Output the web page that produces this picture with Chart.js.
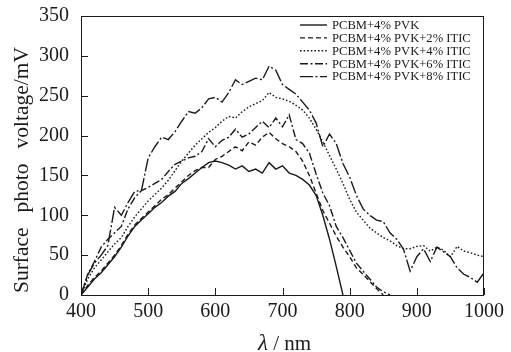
<!DOCTYPE html>
<html>
<head>
<meta charset="utf-8">
<script src="https://cdn.jsdelivr.net/npm/chart.js@4.4.1/dist/chart.umd.min.js"></script>
<style>
  html, body { margin: 0; padding: 0; background: #fff; }
  #wrap { width: 511px; height: 352px; }
</style>
</head>
<body>
<div id="wrap"><canvas id="spv"></canvas></div>
<script>
"use strict"

// wavelength (nm)
const wavelengths = [
    400, 410, 420, 430, 440, 450, 460, 470, 480, 490,
    500, 510, 520, 530, 540, 550, 560, 570, 580, 590,
    600, 610, 620, 630, 640, 650, 660, 670, 680, 690,
    700, 710, 720, 730, 740, 750, 760, 770, 780, 790,
    800, 810, 820, 830, 840, 850, 860, 870, 880, 890,
    900, 910, 920, 930, 940, 950, 960, 970, 980, 990, 1000
];

// surface photo voltage (mV)
const pvk = [
    0, 10, 20, 28, 38, 48, 60, 74, 86, 94,
    102, 110, 116, 124, 130, 140, 146, 153, 160, 166,
    168, 166, 163, 158, 162, 155, 158, 153, 166, 158,
    162, 153, 150, 145, 138, 125, 100, 70, 36, 0,
    null, null, null, null, null, null, null, null, null, null,
    null, null, null, null, null, null, null, null, null, null, null
];
const itic2 = [
    0, 12, 22, 30, 40, 50, 62, 76, 88, 96,
    104, 112, 120, 126, 134, 142, 150, 156, 160, 160,
    170, 174, 180, 186, 181, 192, 188, 198, 204, 196,
    190, 186, 180, 168, 150, 128, 106, 90, 74, 60,
    48, 34, 26, 17, 8, 0, null, null, null, null,
    null, null, null, null, null, null, null, null, null, null, null
];
const itic4 = [
    0, 20, 34, 44, 54, 64, 72, 86, 98, 108,
    118, 126, 134, 144, 156, 168, 178, 188, 196, 204,
    210, 218, 224, 222, 230, 236, 240, 244, 254, 248,
    246, 243, 238, 232, 222, 208, 192, 175, 158, 140,
    120, 104, 94, 84, 78, 72, 68, 62, 58, 58,
    61, 62, 55, 60, 56, 48, 61, 55, 53, 50, 48
];
const itic6 = [
    0, 26, 42, 60, 70, 78, 86, 108, 122, 131,
    135, 140, 145, 155, 164, 168, 172, 174, 180, 196,
    186, 194, 198, 208, 198, 202, 210, 218, 210, 222,
    211, 226, 195, 190, 178, 152, 128, 112, 86, 72,
    56, 40, 30, 20, 10, 4, 0, null, null, null,
    null, null, null, null, null, null, null, null, null, null, null
];
const itic8 = [
    0, 25, 40, 50, 62, 110, 100, 116, 130, 131,
    172, 186, 198, 195, 205, 218, 230, 228, 235, 246,
    248, 242, 254, 270, 264, 268, 272, 270, 287, 282,
    264, 258, 252, 242, 232, 216, 186, 202, 190, 165,
    148, 125, 108, 100, 94, 92, 78, 70, 58, 30,
    48, 58, 42, 60, 54, 48, 34, 26, 22, 16, 28
];

const seriesLabels = [
    'PCBM+4% PVK',
    'PCBM+4% PVK+2% ITIC',
    'PCBM+4% PVK+4% ITIC',
    'PCBM+4% PVK+6% ITIC',
    'PCBM+4% PVK+8% ITIC'
];
const seriesValues = [pvk, itic2, itic4, itic6, itic8];
const seriesDash = [[], [5, 3], [1.6, 2], [8, 2.5, 2, 2.5], [13, 2.5, 2, 2.5]];

const xTicks = [400, 500, 600, 700, 800, 900, 1000];
const yTicks = [0, 50, 100, 150, 200, 250, 300, 350];

const serif = "'Liberation Serif', 'DejaVu Serif', serif";
const ink = '#1a1a1a';

function toPoints(values) {
    return wavelengths.map((w, i) => ({ x: w, y: values[i] }));
}

const datasets = seriesLabels.map((label, i) => ({
    label: label,
    data: toPoints(seriesValues[i]),
    borderColor: ink,
    borderWidth: 1.4,
    borderDash: seriesDash[i],
    pointRadius: 0,
    tension: 0,
    fill: false,
    spanGaps: false
}));

// frame, inward ticks, axis titles and legend
const decorations = {
    id: 'decorations',
    afterDraw(chart) {
        const ctx = chart.ctx;
        const area = chart.chartArea;
        const xs = chart.scales.x;
        const ys = chart.scales.y;
        ctx.save();
        ctx.strokeStyle = ink;
        ctx.lineWidth = 1;
        ctx.setLineDash([]);
        ctx.strokeRect(area.left + 0.5, area.top + 0.5, area.right - area.left - 1, area.bottom - area.top);

        ctx.beginPath();
        xTicks.forEach(v => {
            const px = Math.round(xs.getPixelForValue(v)) + 0.5;
            ctx.moveTo(px, area.bottom);
            ctx.lineTo(px, area.bottom - 7);
        });
        yTicks.forEach(v => {
            const py = Math.round(ys.getPixelForValue(v)) + 0.5;
            ctx.moveTo(area.left, py);
            ctx.lineTo(area.left + 7, py);
        });
        ctx.stroke();

        // y title
        ctx.fillStyle = ink;
        ctx.font = '21.5px ' + serif;
        ctx.textBaseline = 'middle';
        ctx.translate(22, 170);
        ctx.rotate(-Math.PI / 2);
        const words = ['Surface', 'photo', 'voltage/mV'];
        const total = 246;
        const widths = words.map(w => ctx.measureText(w).width);
        const gap = (total - widths.reduce((a, b) => a + b, 0)) / (words.length - 1);
        let cx = -total / 2;
        ctx.textAlign = 'left';
        words.forEach((w, i) => {
            ctx.fillText(w, cx, 0);
            cx += widths[i] + gap;
        });
        ctx.setTransform(1, 0, 0, 1, 0, 0);

        // x title
        const midX = (area.left + area.right) / 2 + 2;
        ctx.font = 'italic 23px ' + serif;
        const lw = ctx.measureText('\u03bb').width;
        ctx.font = '21px ' + serif;
        const rw = ctx.measureText(' / nm').width;
        let tx = midX - (lw + rw) / 2;
        ctx.textBaseline = 'alphabetic';
        ctx.font = 'italic 23px ' + serif;
        ctx.fillText('\u03bb', tx, 350);
        ctx.font = '21px ' + serif;
        ctx.fillText(' / nm', tx + lw, 350);

        // legend
        ctx.font = '12.6px ' + serif;
        ctx.textBaseline = 'middle';
        chart.data.datasets.forEach((ds, i) => {
            const y = 25 + i * 12.9;
            ctx.beginPath();
            ctx.lineWidth = 1.4;
            ctx.setLineDash(ds.borderDash);
            ctx.moveTo(300, y);
            ctx.lineTo(327, y);
            ctx.stroke();
            ctx.fillText(ds.label, 332, y + 0.5);
        });
        ctx.restore();
    }
};

const config = {
    type: 'line',
    data: { datasets: datasets },
    options: {
        responsive: true,
        maintainAspectRatio: false,
        animation: false,
        layout: { padding: { top: 15, right: 27, left: 0, bottom: 0 } },
        plugins: {
            legend: { display: false },
            tooltip: { enabled: false }
        },
        scales: {
            x: {
                type: 'linear',
                min: 400,
                max: 1000,
                afterFit(scale) { scale.height = 57; },
                afterBuildTicks(scale) { scale.ticks = xTicks.map(v => ({ value: v })); },
                grid: { display: false },
                border: { display: false },
                ticks: {
                    color: ink,
                    padding: -3,
                    maxRotation: 0,
                    autoSkip: false,
                    font: { family: serif, size: 20 },
                    callback: v => String(v)
                }
            },
            y: {
                min: 0,
                max: 350,
                afterFit(scale) { scale.width = 81; },
                afterBuildTicks(scale) { scale.ticks = yTicks.map(v => ({ value: v })); },
                grid: { display: false },
                border: { display: false },
                ticks: {
                    color: ink,
                    padding: 4,
                    autoSkip: false,
                    font: { family: serif, size: 20 },
                    callback: v => String(v)
                }
            }
        }
    },
    plugins: [decorations]
};

const chart1 = new Chart(document.getElementById('spv').getContext('2d'), config);
</script>
</body>
</html>
